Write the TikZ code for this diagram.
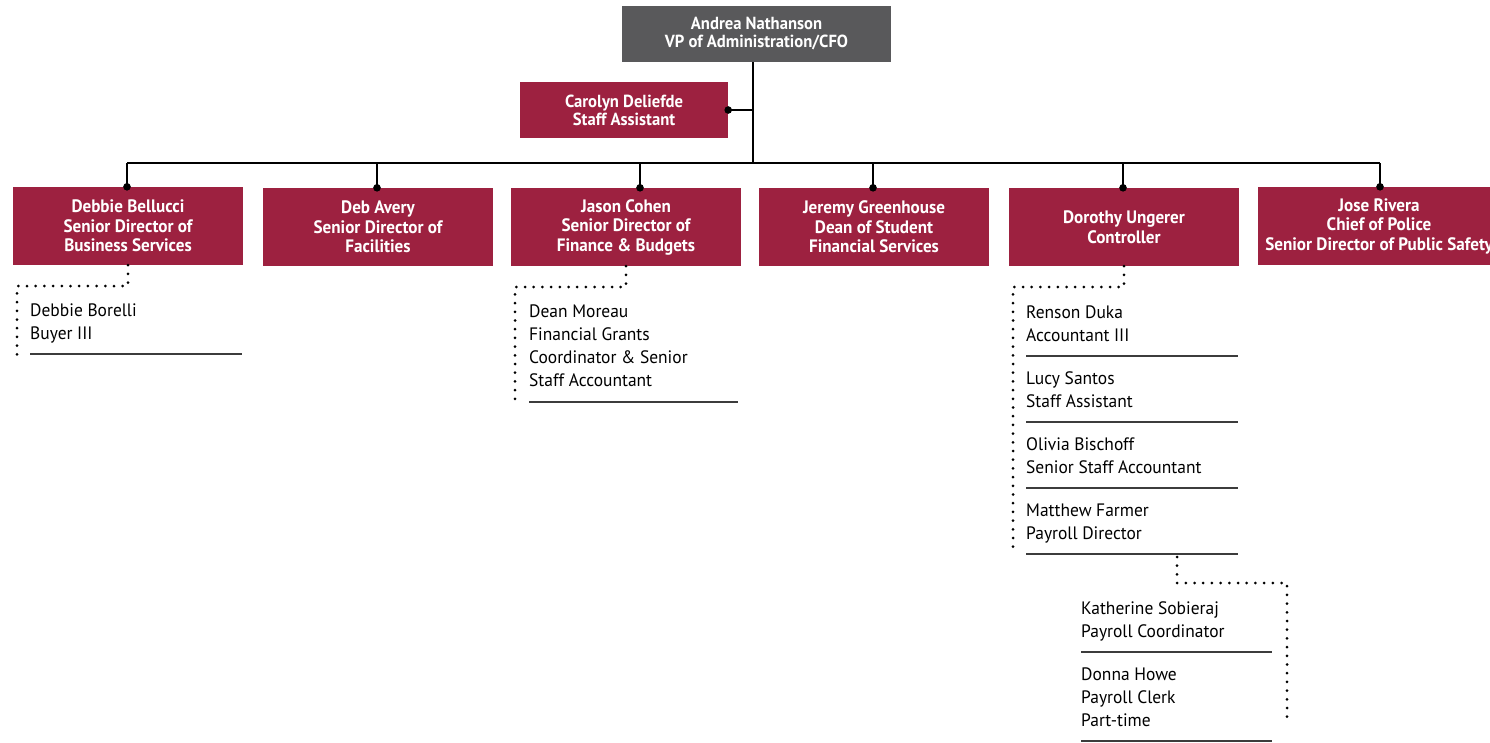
\documentclass[tikz,border=0pt]{standalone}
\usepackage{fontspec}
\newfontfamily\boxfont{PT Sans}[FakeStretch=0.95]
\newfontfamily\itemfont{PT Sans}[FakeStretch=0.97]
\definecolor{crimson}{RGB}{157,33,64}
\definecolor{slate}{RGB}{89,89,91}
\definecolor{rulegray}{RGB}{60,60,60}
\begin{document}
\begin{tikzpicture}[x=1pt,y=-1pt,
  headbox/.style={fill=slate,text=white,minimum width=269pt,minimum height=56pt,
    align=center,inner sep=0pt,font=\boxfont\bfseries\fontsize{17.5}{18}\selectfont},
  staffbox/.style={fill=crimson,text=white,minimum width=208pt,minimum height=56pt,
    align=center,inner sep=0pt,font=\boxfont\bfseries\fontsize{17.5}{18}\selectfont},
  dirbox/.style={fill=crimson,text=white,minimum width=230pt,minimum height=78pt,
    align=center,inner sep=0pt,font=\boxfont\bfseries\fontsize{18}{19.5}\selectfont},
  entry/.style={anchor=base west,inner sep=0pt,align=left,text=black,
    font=\itemfont\fontsize{18}{23}\selectfont},
  conn/.style={draw=black,line width=2pt},
  dotline/.style={draw=black,line width=3pt,line cap=round,dash pattern=on 0pt off 8.7pt},
  rule/.style={draw=rulegray,line width=1.2pt}]
\useasboundingbox (0,0) rectangle (1490,742);

% executive and staff assistant
\node[headbox] (vp) at (756.5,34) {Andrea Nathanson\\VP of Administration/CFO};
\node[staffbox] (staff) at (624,110) {Carolyn Deliefde\\Staff Assistant};

% senior directors
\node[dirbox] (b1) at (128,226) {Debbie Bellucci\\Senior Director of\\Business Services};
\node[dirbox] (b2) at (378,227) {Deb Avery\\Senior Director of\\Facilities};
\node[dirbox] (b3) at (626,227) {Jason Cohen\\Senior Director of\\Finance \& Budgets};
\node[dirbox] (b4) at (874,227) {Jeremy Greenhouse\\Dean of Student\\Financial Services};
\node[dirbox] (b5) at (1124,227) {Dorothy Ungerer\\Controller};
\node[dirbox,minimum width=242pt] (b6) at (1379,226) {Jose Rivera\\Chief of Police\\Senior Director of Public Safety};

% reporting tree
\coordinate (spine) at (753,163);
\draw[conn] (vp.south -| spine) -- (spine);
\draw[conn] (staff.east) -- (staff.east -| spine);
\fill (staff.east) circle (3.8pt);
\coordinate (barL) at (127,163);
\coordinate (barR) at (1380,163);
\draw[conn] (barL) -- (barR);
\foreach \b/\dx in {b1/-1pt,b2/-1pt,b3/14pt,b4/-1pt,b5/-1pt,b6/1pt}{
  \draw[conn] ([xshift=\dx]\b.north |- spine) -- ([xshift=\dx]\b.north);
  \fill ([xshift=\dx]\b.north) circle (3.8pt);
}

% staff under Business Services (base anchor sits on the last line)
\node[entry] (borelli) at (30,339) {Debbie Borelli\\Buyer III};
\draw[rule] (30,354) -- (242,354);
\coordinate (g1end) at (17,355);
\draw[dotline] (b1.south) |- (17,286) -- (g1end);

% staff under Finance & Budgets
\node[entry] (moreau) at (529,386) {Dean Moreau\\Financial Grants\\Coordinator \& Senior\\Staff Accountant};
\draw[rule] (529,402) -- (738,402);
\coordinate (g3end) at (515,401);
\draw[dotline] (b3.south) |- (515,287) -- (g3end);

% staff under Controller
\node[entry] (duka) at (1026,341) {Renson Duka\\Accountant III};
\draw[rule] (1026,356) -- (1238,356);
\node[entry] (santos) at (1026,407) {Lucy Santos\\Staff Assistant};
\draw[rule] (1026,422) -- (1238,422);
\node[entry] (bischoff) at (1026,473) {Olivia Bischoff\\Senior Staff Accountant};
\draw[rule] (1026,488) -- (1238,488);
\node[entry] (farmer) at (1026,539) {Matthew Farmer\\Payroll Director};
\draw[rule] (1026,554) -- (1238,554);
\coordinate (g5end) at (1013,553);
\draw[dotline] (b5.south) |- (1013,287) -- (g5end);

% payroll staff
\node[entry] (sobieraj) at (1081,637) {Katherine Sobieraj\\Payroll Coordinator};
\draw[rule] (1081,652) -- (1272,652);
\node[entry] (howe) at (1081,726) {Donna Howe\\Payroll Clerk\\Part-time};
\draw[rule] (1081,741) -- (1272,741);
\coordinate (payrollsplit) at (1177,557);
\coordinate (payrollend) at (1287,717);
\draw[dotline] (payrollsplit) |- (1287,583) -- (payrollend);
\end{tikzpicture}
\end{document}
